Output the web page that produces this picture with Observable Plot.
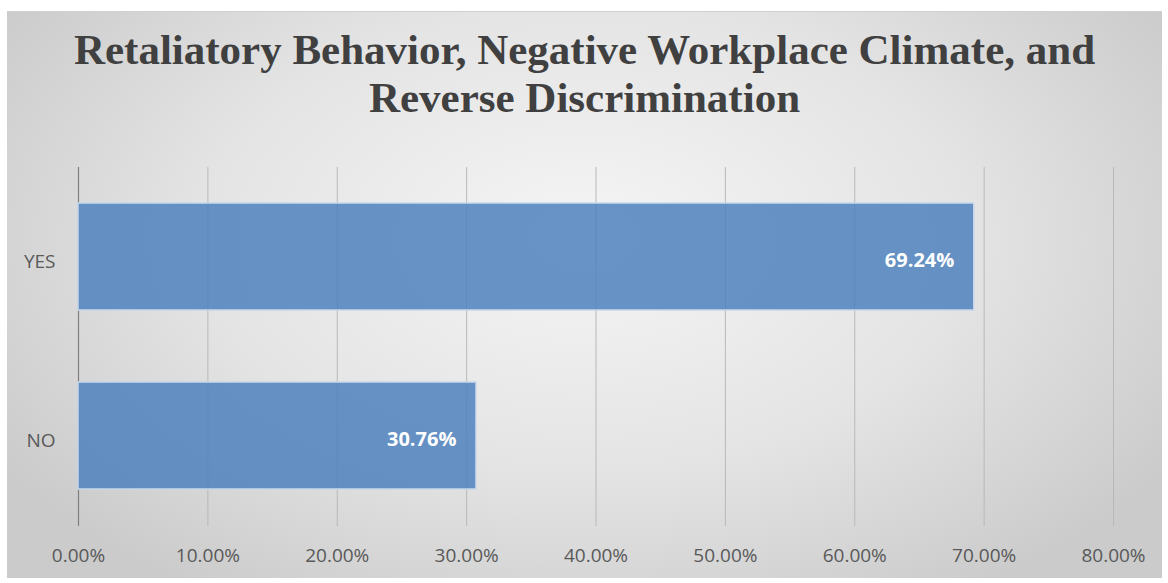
<!DOCTYPE html>
<html>
<head>
<meta charset="utf-8">
<script src="https://cdn.jsdelivr.net/npm/d3@7"></script>
<script src="https://cdn.jsdelivr.net/npm/@observablehq/plot@0.6"></script>
<style>
  html, body { margin: 0; padding: 0; background: #ffffff; }
  #frame {
    position: absolute; left: 7px; top: 11px; width: 1155px; height: 566px;
    background: radial-gradient(ellipse 60% 75% at 50% 40%, #f5f5f5 0%, #e4e4e4 55%, #cbcbcb 100%);
    border-top: 1px solid #d0d0d0;
    overflow: hidden;
  }
  #title {
    position: absolute; left: 0; top: 14px; width: 100%;
    text-align: center;
    font-family: "Liberation Serif", "DejaVu Serif", serif;
    font-weight: bold; font-size: 43px; line-height: 48px; color: #404040;
  }
  #chart { position: absolute; left: 0; top: 129px; }
</style>
</head>
<body>
<div id="frame">
  <div id="title">Retaliatory Behavior, Negative Workplace Climate, and<br>Reverse Discrimination</div>
  <div id="chart"></div>
</div>
<script>
const categories = ["YES", "NO"];
const values = [0.6924, 0.3076];
const xTicks = [0, 0.1, 0.2, 0.3, 0.4, 0.5, 0.6, 0.7, 0.8];

const data = categories.map((c, i) => ({category: c, value: values[i]}));
const pct = d3.format(".2%");

const plot = Plot.plot({
  width: 1155,
  height: 437,
  marginLeft: 71,
  marginRight: 49,
  marginTop: 26,
  marginBottom: 52,
  style: {background: "transparent", fontFamily: "'Open Sans', 'Liberation Sans', sans-serif", fontSize: "19px", color: "#595959", overflow: "visible"},
  x: {domain: [0, 0.8], ticks: xTicks, tickFormat: pct},
  y: {domain: categories, paddingInner: 0.4, paddingOuter: 0.2},
  marks: [
    Plot.gridX(xTicks.filter(t => t > 0), {stroke: "#b8b8b8", strokeOpacity: 1, strokeWidth: 1}),
    Plot.ruleX([0], {stroke: "#7f7f7f", strokeWidth: 1.2}),
    Plot.barX(data, {x: "value", y: "category", fill: "#4f81bd", fillOpacity: 0.85, stroke: "#c9d8ec", strokeWidth: 1.5}),
    Plot.text(data, {x: "value", y: "category", text: d => pct(d.value), textAnchor: "end", dx: -20, dy: 4, fill: "white", fontWeight: "bold", fontSize: 20}),
    Plot.axisX({ticks: xTicks, tickFormat: pct, tickSize: 0, tickPadding: 22, fontSize: 19, fill: "#595959", label: null}),
    Plot.axisY({tickSize: 0, tickPadding: 23, dy: 5, fontSize: 19, fill: "#595959", label: null})
  ]
});
document.getElementById("chart").appendChild(plot);
</script>
</body>
</html>
